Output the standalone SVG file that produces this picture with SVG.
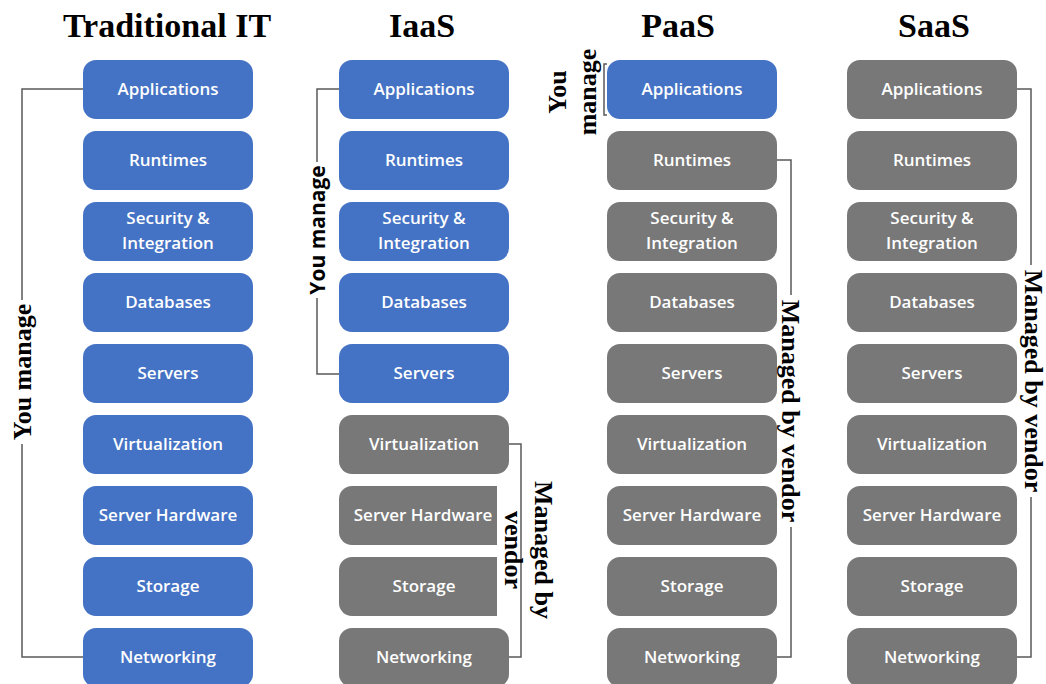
<svg xmlns="http://www.w3.org/2000/svg" width="1046" height="684" viewBox="0 0 1046 684">
<style>
.b{fill:#4472c4}
.g{fill:#787878}
.t{font-family:"Open Sans","Liberation Sans",sans-serif;font-weight:600;font-size:17px;fill:#fff;text-anchor:middle}
.h{font-family:"Liberation Serif",serif;font-weight:bold;font-size:34px;fill:#000;text-anchor:middle}
.l{font-family:"Liberation Serif",serif;font-weight:bold;font-size:26px;fill:#000;text-anchor:middle}
.ls{font-family:"Open Sans","Liberation Sans",sans-serif;font-weight:bold;font-size:21px;fill:#000;text-anchor:middle}
.c{fill:none;stroke:#595959;stroke-width:1.5}
</style>
<rect width="1046" height="684" fill="#fff"/>
<g id="titles">
<text class="h" x="167" y="37">Traditional IT</text>
<text class="h" x="422" y="37">IaaS</text>
<text class="h" x="678" y="37">PaaS</text>
<text class="h" x="934" y="37">SaaS</text>
</g>
<g id="connectors">
<path class="c" d="M83,89 H22 V657 H83"/>
<path class="c" d="M339,89 H317 V374 H339"/>
<path class="c" d="M509,444 H521 V657 H509"/>
<path class="c" d="M607,64 H604 V115 H607"/>
<path class="c" d="M777,160 H791 V657 H777"/>
<path class="c" d="M1017,89 H1031 V657 H1017"/>
</g>
<g id="col-traditional">
<g id="t1"><rect class="b" x="83" y="60" width="170" height="59" rx="13"/><text class="t" x="168" y="95">Applications</text></g>
<g id="t2"><rect class="b" x="83" y="131" width="170" height="59" rx="13"/><text class="t" x="168" y="166">Runtimes</text></g>
<g id="t3"><rect class="b" x="83" y="202" width="170" height="59" rx="13"/><text class="t" x="168" y="224">Security &amp;</text><text class="t" x="168" y="249">Integration</text></g>
<g id="t4"><rect class="b" x="83" y="273" width="170" height="59" rx="13"/><text class="t" x="168" y="308">Databases</text></g>
<g id="t5"><rect class="b" x="83" y="344" width="170" height="59" rx="13"/><text class="t" x="168" y="379">Servers</text></g>
<g id="t6"><rect class="b" x="83" y="415" width="170" height="59" rx="13"/><text class="t" x="168" y="450">Virtualization</text></g>
<g id="t7"><rect class="b" x="83" y="486" width="170" height="59" rx="13"/><text class="t" x="168" y="521">Server Hardware</text></g>
<g id="t8"><rect class="b" x="83" y="557" width="170" height="59" rx="13"/><text class="t" x="168" y="592">Storage</text></g>
<g id="t9"><rect class="b" x="83" y="628" width="170" height="59" rx="13"/><text class="t" x="168" y="663">Networking</text></g>
</g>
<g id="col-iaas">
<g id="i1"><rect class="b" x="339" y="60" width="170" height="59" rx="13"/><text class="t" x="424" y="95">Applications</text></g>
<g id="i2"><rect class="b" x="339" y="131" width="170" height="59" rx="13"/><text class="t" x="424" y="166">Runtimes</text></g>
<g id="i3"><rect class="b" x="339" y="202" width="170" height="59" rx="13"/><text class="t" x="424" y="224">Security &amp;</text><text class="t" x="424" y="249">Integration</text></g>
<g id="i4"><rect class="b" x="339" y="273" width="170" height="59" rx="13"/><text class="t" x="424" y="308">Databases</text></g>
<g id="i5"><rect class="b" x="339" y="344" width="170" height="59" rx="13"/><text class="t" x="424" y="379">Servers</text></g>
<g id="i6"><rect class="g" x="339" y="415" width="170" height="59" rx="13"/><text class="t" x="424" y="450">Virtualization</text></g>
<g id="i7"><path class="g" d="M352,486 H497 V545 H352 A13,13 0 0 1 339,532 V499 A13,13 0 0 1 352,486 Z"/><text class="t" x="423" y="521">Server Hardware</text></g>
<g id="i8"><path class="g" d="M352,557 H497 V616 H352 A13,13 0 0 1 339,603 V570 A13,13 0 0 1 352,557 Z"/><text class="t" x="424" y="592">Storage</text></g>
<g id="i9"><rect class="g" x="339" y="628" width="170" height="59" rx="13"/><text class="t" x="424" y="663">Networking</text></g>
</g>
<g id="col-paas">
<g id="p1"><rect class="b" x="607" y="60" width="170" height="59" rx="13"/><text class="t" x="692" y="95">Applications</text></g>
<g id="p2"><rect class="g" x="607" y="131" width="170" height="59" rx="13"/><text class="t" x="692" y="166">Runtimes</text></g>
<g id="p3"><rect class="g" x="607" y="202" width="170" height="59" rx="13"/><text class="t" x="692" y="224">Security &amp;</text><text class="t" x="692" y="249">Integration</text></g>
<g id="p4"><rect class="g" x="607" y="273" width="170" height="59" rx="13"/><text class="t" x="692" y="308">Databases</text></g>
<g id="p5"><rect class="g" x="607" y="344" width="170" height="59" rx="13"/><text class="t" x="692" y="379">Servers</text></g>
<g id="p6"><rect class="g" x="607" y="415" width="170" height="59" rx="13"/><text class="t" x="692" y="450">Virtualization</text></g>
<g id="p7"><rect class="g" x="607" y="486" width="170" height="59" rx="13"/><text class="t" x="692" y="521">Server Hardware</text></g>
<g id="p8"><rect class="g" x="607" y="557" width="170" height="59" rx="13"/><text class="t" x="692" y="592">Storage</text></g>
<g id="p9"><rect class="g" x="607" y="628" width="170" height="59" rx="13"/><text class="t" x="692" y="663">Networking</text></g>
</g>
<g id="col-saas">
<g id="s1"><rect class="g" x="847" y="60" width="170" height="59" rx="13"/><text class="t" x="932" y="95">Applications</text></g>
<g id="s2"><rect class="g" x="847" y="131" width="170" height="59" rx="13"/><text class="t" x="932" y="166">Runtimes</text></g>
<g id="s3"><rect class="g" x="847" y="202" width="170" height="59" rx="13"/><text class="t" x="932" y="224">Security &amp;</text><text class="t" x="932" y="249">Integration</text></g>
<g id="s4"><rect class="g" x="847" y="273" width="170" height="59" rx="13"/><text class="t" x="932" y="308">Databases</text></g>
<g id="s5"><rect class="g" x="847" y="344" width="170" height="59" rx="13"/><text class="t" x="932" y="379">Servers</text></g>
<g id="s6"><rect class="g" x="847" y="415" width="170" height="59" rx="13"/><text class="t" x="932" y="450">Virtualization</text></g>
<g id="s7"><rect class="g" x="847" y="486" width="170" height="59" rx="13"/><text class="t" x="932" y="521">Server Hardware</text></g>
<g id="s8"><rect class="g" x="847" y="557" width="170" height="59" rx="13"/><text class="t" x="932" y="592">Storage</text></g>
<g id="s9"><rect class="g" x="847" y="628" width="170" height="59" rx="13"/><text class="t" x="932" y="663">Networking</text></g>
</g>
<g id="labels">
<g transform="translate(22,372) rotate(-90)"><rect x="-72" y="-14" width="144" height="28" fill="#fff"/><text class="l" x="0" y="9">You manage</text></g>
<g transform="translate(317,230) rotate(-90)"><rect x="-68" y="-14" width="136" height="28" fill="#fff"/><text class="ls" x="0" y="8">You manage</text></g>
<g transform="translate(528,550) rotate(90)"><text class="l" x="0" y="-7">Managed by</text><text class="l" x="0" y="23">vendor</text></g>
<g transform="translate(575,92) rotate(-90)"><text class="l" x="0" y="-9">You</text><text class="l" x="0" y="21">manage</text></g>
<g transform="translate(791,411) rotate(90)"><rect x="-116" y="-14" width="232" height="28" fill="#fff"/><text class="l" x="0" y="9">Managed by vendor</text></g>
<g transform="translate(1032,381) rotate(90)"><rect x="-116" y="-14" width="232" height="28" fill="#fff"/><text class="l" x="0" y="7">Managed by vendor</text></g>
</g>
</svg>
